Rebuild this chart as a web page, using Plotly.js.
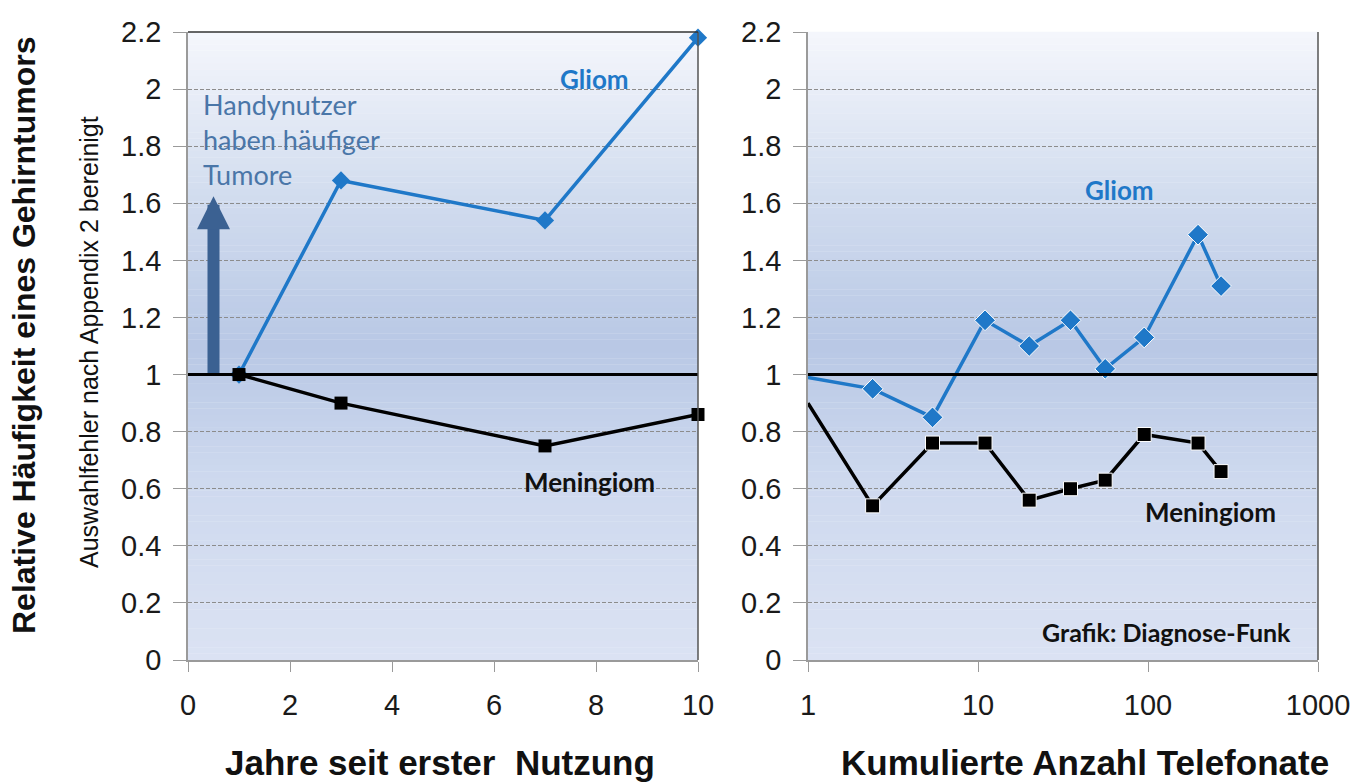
<!DOCTYPE html>
<html>
<head>
<meta charset="utf-8">
<script src="https://cdn.plot.ly/plotly-3.0.1.min.js"></script>
<style>
  html, body { margin: 0; padding: 0; background: #fff; }
  #chart { width: 1370px; height: 784px; }
</style>
</head>
<body>
<div id="chart"></div>
<script>
// Left panel: years since first use
const YEARS = [1, 3, 7, 10];
const YEARS_GLIOM = [1.0, 1.68, 1.54, 2.18];
const YEARS_MENINGIOM = [1.0, 0.9, 0.75, 0.86];

// Right panel: cumulative number of calls (log axis)
const CALLS = [1, 2.4, 5.4, 11, 20, 35, 56, 95, 197, 269];
const CALLS_GLIOM = [0.99, 0.95, 0.85, 1.19, 1.1, 1.19, 1.02, 1.13, 1.49, 1.31];
const CALLS_MENINGIOM = [0.9, 0.54, 0.76, 0.76, 0.56, 0.6, 0.63, 0.79, 0.76, 0.66];

const Y_TICKS = [0, 0.2, 0.4, 0.6, 0.8, 1, 1.2, 1.4, 1.6, 1.8, 2, 2.2];
const Y_LABELS = ['0', '0.2', '0.4', '0.6', '0.8', '1', '1.2', '1.4', '1.6', '1.8', '2', '2.2'];

const BLUE = '#1f78c8';
const ARIAL = 'Liberation Sans, Arial, sans-serif';
const CALIBRI = 'Lato, Open Sans, sans-serif';
const TICK_FONT = { family: ARIAL, size: 29, color: '#1a1a1a' };

// first point on the right panel sits on the border with no marker
const firstHidden = (n, s) => Array.from({ length: n }, (_, i) => (i === 0 ? 0 : s));

const traces = [
  {
    x: YEARS, y: YEARS_GLIOM, xaxis: 'x', yaxis: 'y',
    mode: 'lines+markers', line: { color: BLUE, width: 3.5 },
    marker: { symbol: 'diamond', size: 14, color: BLUE, opacity: 1 }, cliponaxis: false
  },
  {
    x: YEARS, y: YEARS_MENINGIOM, xaxis: 'x', yaxis: 'y',
    mode: 'lines+markers', line: { color: '#000', width: 3.5 },
    marker: { symbol: 'square', size: 13, color: '#000', opacity: 1 }, cliponaxis: false
  },
  {
    x: CALLS, y: CALLS_GLIOM, xaxis: 'x2', yaxis: 'y2',
    mode: 'lines+markers', line: { color: BLUE, width: 3.5 },
    marker: { symbol: 'diamond', size: firstHidden(CALLS.length, 16), color: BLUE, opacity: 1 }
  },
  {
    x: CALLS, y: CALLS_MENINGIOM, xaxis: 'x2', yaxis: 'y2',
    mode: 'lines+markers', line: { color: '#000', width: 3.5 },
    marker: { symbol: 'square', size: firstHidden(CALLS.length, 14), color: '#000', opacity: 1 }
  }
];

// vertical gradient behind each plot area, built from thin bands
function lerp(a, b, t) { return Math.round(a + (b - a) * t); }
function hex(c) { return [1, 3, 5].map(i => parseInt(c.slice(i, i + 2), 16)); }
const STOPS = [[0, '#dbe2f3'], [0.3, '#cdd8ee'], [0.5, '#b8c8e5'], [0.75, '#d3ddef'], [1, '#f5f7fc']];
function colorAt(t) {
  for (let i = 0; i < STOPS.length - 1; i++) {
    const [p0, c0] = STOPS[i], [p1, c1] = STOPS[i + 1];
    if (t <= p1) {
      const a = hex(c0), b = hex(c1), k = (t - p0) / (p1 - p0);
      return `rgb(${lerp(a[0], b[0], k)},${lerp(a[1], b[1], k)},${lerp(a[2], b[2], k)})`;
    }
  }
  return STOPS[STOPS.length - 1][1];
}
const shapes = [];
const BANDS = 100;
['', '2'].forEach(s => {
  for (let i = 0; i < BANDS; i++) {
    shapes.push({
      type: 'rect', layer: 'below', xref: 'x' + s + ' domain', yref: 'y' + s + ' domain',
      x0: 0, x1: 1, y0: i / BANDS, y1: (i + 1.05) / BANDS,
      fillcolor: colorAt((i + 0.5) / BANDS), line: { width: 0 }
    });
  }
  // reference line at 1
  shapes.push({
    type: 'line', xref: 'x' + s + ' domain', yref: 'y' + s, x0: 0, x1: 1, y0: 1, y1: 1,
    line: { color: '#000', width: 3 }
  });
  // right border
  shapes.push({
    type: 'line', xref: 'x' + s + ' domain', yref: 'y' + s + ' domain', x0: 1, x1: 1, y0: 0, y1: 1,
    line: { color: '#555', width: 1.5 }
  });
});
shapes.push({
  type: 'line', xref: 'x domain', yref: 'y domain', x0: 0, x1: 1, y0: 1, y1: 1,
  line: { color: '#333', width: 1.5 }
});

const yaxisBase = {
  range: [0, 2.2], tickvals: Y_TICKS, ticktext: Y_LABELS,
  showgrid: true, gridcolor: '#8c8c8c', griddash: '4px,2px', gridwidth: 1,
  zeroline: false, showline: true, linecolor: '#9a9a9a', linewidth: 1.5,
  ticks: 'outside', ticklen: 13, tickcolor: '#9a9a9a', tickfont: TICK_FONT,
  ticklabelstandoff: 6
};
const xaxisBase = {
  showgrid: false, zeroline: false, showline: true, linecolor: '#9a9a9a', linewidth: 1.5,
  ticks: 'outside', ticklen: 10, tickcolor: '#9a9a9a', tickfont: TICK_FONT,
  ticklabelstandoff: 8
};

const layout = {
  width: 1370, height: 784,
  margin: { l: 0, r: 0, t: 0, b: 0 },
  paper_bgcolor: '#fff', plot_bgcolor: 'rgba(0,0,0,0)',
  showlegend: false,
  xaxis: Object.assign({
    domain: [188 / 1370, 698 / 1370], anchor: 'y',
    range: [0, 10], tickvals: [0, 2, 4, 6, 8, 10]
  }, xaxisBase),
  yaxis: Object.assign({ domain: [1 - 660 / 784, 1 - 32 / 784], anchor: 'x' }, yaxisBase),
  xaxis2: Object.assign({
    domain: [808 / 1370, 1318 / 1370], anchor: 'y2',
    type: 'log', range: [0, 3], tickvals: [1, 10, 100, 1000], ticktext: ['1', '10', '100', '1000']
  }, xaxisBase),
  yaxis2: Object.assign({ domain: [1 - 660 / 784, 1 - 32 / 784], anchor: 'x2' }, yaxisBase),
  shapes: shapes,
  annotations: [
    {
      xref: 'paper', yref: 'paper', x: 440 / 1370, y: 1 - 762 / 784, xanchor: 'center', yanchor: 'middle',
      text: '<b>Jahre seit erster  Nutzung</b>', showarrow: false,
      font: { family: ARIAL, size: 35, color: '#111' }
    },
    {
      xref: 'paper', yref: 'paper', x: 1085 / 1370, y: 1 - 762 / 784, xanchor: 'center', yanchor: 'middle',
      text: '<b>Kumulierte Anzahl Telefonate</b>', showarrow: false,
      font: { family: ARIAL, size: 35, color: '#111' }
    },
    {
      xref: 'paper', yref: 'paper', x: 24 / 1370, y: 1 - 335 / 784, xanchor: 'center', yanchor: 'middle',
      textangle: -90, text: '<b>Relative Häufigkeit eines Gehirntumors</b>', showarrow: false,
      font: { family: ARIAL, size: 32, color: '#111' }
    },
    {
      xref: 'paper', yref: 'paper', x: 89 / 1370, y: 1 - 342 / 784, xanchor: 'center', yanchor: 'middle',
      textangle: -90, text: 'Auswahlfehler nach Appendix 2 bereinigt', showarrow: false,
      font: { family: ARIAL, size: 25, color: '#111' }
    },
    {
      xref: 'x', yref: 'y', x: 0.5, y: 1.625, ax: 0.5, ay: 1.0, axref: 'x', ayref: 'y',
      showarrow: true, arrowhead: 2, arrowsize: 0.55, arrowwidth: 12, arrowcolor: '#3b6192', text: ''
    },
    {
      xref: 'x', yref: 'y', x: 0.25, y: 1.825, xanchor: 'left', align: 'left', showarrow: false,
      text: 'Handynutzer<br>haben häufiger<br>Tumore',
      font: { family: CALIBRI, size: 27, color: '#4a76a8' }
    },
    {
      xref: 'x', yref: 'y', x: 7.98, y: 2.035, showarrow: false, text: '<b>Gliom</b>',
      font: { family: CALIBRI, size: 26, color: BLUE }
    },
    {
      xref: 'x', yref: 'y', x: 7.88, y: 0.623, showarrow: false, text: '<b>Meningiom</b>',
      font: { family: CALIBRI, size: 26, color: '#111' }
    },
    {
      xref: 'x2', yref: 'y2', x: Math.log10(68), y: 1.646, showarrow: false, text: '<b>Gliom</b>',
      font: { family: CALIBRI, size: 26, color: BLUE }
    },
    {
      xref: 'x2', yref: 'y2', x: Math.log10(232), y: 0.518, showarrow: false, text: '<b>Meningiom</b>',
      font: { family: CALIBRI, size: 26, color: '#111' }
    },
    {
      xref: 'x2', yref: 'y2', x: Math.log10(129), y: 0.098, showarrow: false, text: '<b>Grafik: Diagnose-Funk</b>',
      font: { family: CALIBRI, size: 25, color: '#111' }
    }
  ]
};

Plotly.newPlot('chart', traces, layout, { displayModeBar: false, responsive: false });
</script>
</body>
</html>
